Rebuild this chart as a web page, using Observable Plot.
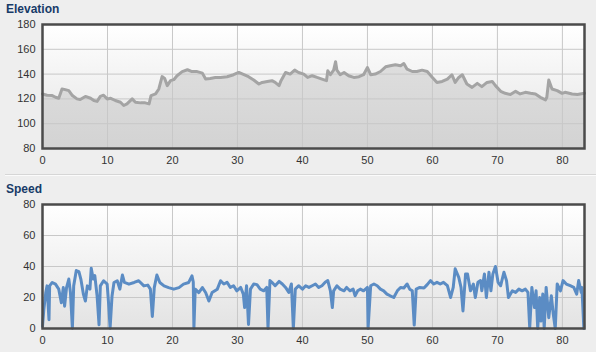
<!DOCTYPE html>
<html><head><meta charset="utf-8">
<script src="https://cdn.jsdelivr.net/npm/d3@7"></script>
<script src="https://cdn.jsdelivr.net/npm/@observablehq/plot@0.6"></script>
<style>
html,body{margin:0;padding:0;background:#eeeeee;}
#wrap{position:relative;width:596px;height:352px;overflow:hidden;font-family:Arial,"Liberation Sans",sans-serif;}
.title{position:absolute;left:6px;font-weight:bold;font-size:12px;line-height:12px;color:#173b68;white-space:nowrap;}
#sep{position:absolute;left:5px;right:0;top:174px;height:0;border-top:1px solid #d6d6d6;border-bottom:1px solid #fbfbfb;}
.chart{position:absolute;left:0;}
</style>
</head><body>
<div id="wrap">
  <div id="c1" class="chart" style="top:0px"></div>
  <div id="sep"></div>
  <div id="c2" class="chart" style="top:180px"></div>
  <div class="title" style="top:2.5px">Elevation</div>
  <div class="title" style="top:182.5px">Speed</div>
</div>
<script>
const xTicks = [0,10,20,30,40,50,60,70,80];
const elevTicks = [80,100,120,140,160,180];
const speedTicks = [0,20,40,60,80];

const elevX = [0,0.7,1.5,2.0,2.5,3.0,3.5,4.05,4.6,5.3,5.8,6.6,7.4,7.9,8.4,8.9,9.4,9.95,10.5,11.2,12.0,12.5,13.0,13.8,14.3,15.1,15.8,16.4,16.7,17.4,17.9,18.4,18.8,19.2,19.7,20.2,20.7,21.5,22.3,23.0,23.8,24.6,25.1,25.8,26.6,27.4,28.4,29.4,30.2,31.0,31.7,32.5,33.3,33.8,34.6,35.3,35.8,36.4,36.7,37.4,38.1,38.8,39.4,40.2,40.8,41.5,42.25,43.0,43.7,43.9,44.3,44.8,45.1,45.3,45.8,46.4,47.1,47.9,48.7,49.4,50.0,50.5,51.2,52.0,52.8,53.5,54.3,55.1,55.6,56.1,56.9,57.6,58.4,59.2,60.0,60.7,61.5,62.3,63.0,63.5,64.05,64.6,65.3,66.1,66.9,67.6,68.4,69.2,69.7,70.5,71.2,72.0,72.8,73.5,74.3,75.1,75.85,76.6,77.4,77.6,77.9,78.4,79.2,79.95,80.4,81.5,82.3,83.4];
const elevV = [124,123,122.7,121.3,120.5,128,127.5,126.7,122.7,120,119.5,122,120.5,118.7,118,122,123,120,120.5,118.7,117.3,114.7,116,120,117.3,116.8,116.8,116,122.7,124,128,138,136.5,130.7,134.7,135.5,138.7,142,143.5,142,142,140.8,136,136.5,137.3,137.3,137.9,139.5,141.3,139.5,137.9,135.2,132,133.3,134.1,134.7,133.3,130.7,134.7,141.3,140,143.2,141.3,140,137.3,138.7,137.3,136,134.7,142.7,139.5,143.2,150,143.2,139.5,141.3,138.7,137.3,137.9,139.5,145.3,139.5,140,142.1,145.9,146.7,147.5,146.7,148.5,144,142.1,142.1,143.2,142.1,137.3,133.3,134.1,136,139.5,133.3,137.3,139.5,132,129.3,132.5,129.9,133.3,134.1,130.7,126.1,124.5,123.5,126.1,124,125.3,124.5,124,121.3,119.2,121.3,135.2,128,126.7,124.5,125.3,124,123.5,124.5];

const speedX = [0,0.2,0.5,0.7,1.0,1.1,1.5,2.0,2.5,2.9,3.2,3.4,3.7,4.05,4.3,4.6,4.8,5.2,5.6,5.9,6.3,6.6,6.9,7.3,7.5,7.8,8.05,8.4,8.7,8.9,9.4,9.95,10.2,10.4,10.7,11.0,11.5,11.9,12.3,12.6,13.3,14.1,14.8,15.6,16.2,16.6,16.9,17.2,17.6,18.05,18.7,19.4,20.2,21.0,21.7,22.5,23.0,23.2,23.3,23.5,24.05,24.6,25.1,25.6,26.1,26.9,27.4,27.9,28.4,28.9,29.4,29.9,30.5,30.9,31.1,31.4,31.7,32.0,32.5,33.0,33.5,34.05,34.5,34.7,35.0,35.3,35.8,36.4,36.9,37.4,37.9,38.3,38.6,38.9,39.4,40.0,40.5,41.0,41.5,42.0,42.5,43.0,43.5,43.9,44.3,44.6,44.8,45.3,45.8,46.4,46.8,47.3,47.8,48.1,48.5,48.9,49.4,50.0,50.1,50.5,51.0,51.5,52.0,52.5,53.0,53.5,54.05,54.6,55.1,55.6,56.1,56.5,56.9,57.2,57.5,58.05,58.7,59.2,59.7,60.2,60.7,61.2,61.7,62.3,62.8,63.2,63.5,64.05,64.4,64.7,65.1,65.4,65.85,66.3,66.6,67.0,67.4,67.6,68.0,68.3,68.7,69.0,69.3,69.7,70.1,70.5,71.0,71.4,71.7,72.3,72.8,73.3,73.8,74.3,74.7,74.97,75.3,75.7,75.95,76.2,76.5,76.7,76.98,77.2,77.5,77.9,78.3,78.6,78.9,79.2,79.7,80.1,80.6,81.2,81.75,82.2,82.5,82.9,83.0,83.3];
const speedV = [1.3,12,23,27.5,5.7,27.5,29.7,28.6,25.4,16.6,26.4,14.4,26.4,31.9,23.2,0.2,27.5,37.4,36.7,31.9,22,17.7,27.5,25.4,38.9,31.9,34.1,21,2.4,27.5,30.8,28.6,14.4,0.2,21,29.7,30.8,25.4,34.5,29.7,28.6,29.7,30.8,27.5,28,25.4,7.8,26.4,34.5,29.7,27.5,26.4,25.4,26.4,28.6,29.7,34,30,0.2,25.4,23.2,26.4,23.2,17.7,23.2,25.4,30.8,28.7,29.8,26.5,27.6,24.3,26.5,22.2,13.5,27.6,2.6,25.4,28.7,28.3,25.4,24.3,26.5,0,30.9,29.8,27.6,30.4,28.7,26.5,23.3,28.7,0,25.4,27.6,25.4,27.6,26.5,27.6,28.7,26.5,27.6,29.8,30.9,24.3,13.5,24.3,27.6,25.4,24.3,26.5,24.3,25.4,21.1,24.3,25.4,24.3,26.5,0,27.6,28.7,27.6,25.4,24.3,22.2,21.1,20,24.3,26.5,26.1,28.7,25.4,24.3,2.2,25.4,26.5,26.1,28.3,30.9,28.7,29.8,28.7,29.8,27.6,20,26.5,38.5,33,26.5,11.3,35.2,35.2,24.3,28.7,20,29.8,30.9,24.3,35.2,20,36.3,24.3,35.2,40,29.8,27.6,36.3,30.9,20,24.3,23.3,25.4,24.3,25.4,23.3,0.4,26.5,13.5,24.3,0,20,4.8,22.2,0,26.5,7,21.1,9.1,0,28.7,24.3,30.9,28.7,27.6,26.5,22.2,30.9,23.3,26.5,0];

const elevData = elevX.map((x, i) => ({x, v: elevV[i]}));
const speedData = speedX.map((x, i) => ({x, v: speedV[i]}));

function addDefs(svg, id, areaTop, areaBottom) {
  const defs = d3.create("svg:defs");
  const bg = defs.append("linearGradient").attr("id", "bg-" + id).attr("x1", 0).attr("y1", 0).attr("x2", 0).attr("y2", 1);
  bg.append("stop").attr("offset", "0%").attr("stop-color", "#ffffff");
  bg.append("stop").attr("offset", "100%").attr("stop-color", "#e3e3e3");
  const ar = defs.append("linearGradient").attr("id", "area-" + id).attr("x1", 0).attr("y1", 0).attr("x2", 0).attr("y2", 1);
  ar.append("stop").attr("offset", "0%").attr("stop-color", areaTop);
  ar.append("stop").attr("offset", "100%").attr("stop-color", areaBottom);
  const f = defs.append("filter").attr("id", "blur-" + id).attr("x", "-5%").attr("y", "-20%").attr("width", "110%").attr("height", "140%");
  f.append("feGaussianBlur").attr("stdDeviation", 1.5);
  svg.insertBefore(defs.node(), svg.firstChild);
  d3.select(svg).selectAll('[aria-label="shadow"]').attr("filter", `url(#blur-${id})`);
}

function makeChart({data, yDomain, yTicks, id, lineColor, shadowColor, area}) {
  const marks = [Plot.frame({fill: `url(#bg-${id})`, stroke: "none"})];
  if (area) marks.push(Plot.areaY(data, {x: "x", y1: yDomain[0], y2: "v", fill: `url(#area-${id})`}));
  marks.push(Plot.ruleX(xTicks.filter(t => t > 0), {stroke: "#c8c8c8", strokeWidth: 1}));
  marks.push(Plot.ruleY(yTicks.filter(t => t > yDomain[0] && t < yDomain[1]), {stroke: "#c8c8c8", strokeWidth: 1}));
  marks.push(Plot.line(data, {x: "x", y: "v", stroke: shadowColor, strokeWidth: 5, dy: 3, strokeLinejoin: "round", ariaLabel: "shadow"}));
  marks.push(Plot.line(data, {x: "x", y: "v", stroke: lineColor, strokeWidth: 3, strokeLinejoin: "round"}));
  marks.push(Plot.frame({stroke: "#4b4b4b", strokeWidth: 2.5}));
  return Plot.plot({
    width: 596, height: 172,
    marginLeft: 42, marginRight: 12, marginTop: 24, marginBottom: 24,
    style: {background: "transparent", fontFamily: "Arial, 'Liberation Sans', sans-serif", fontSize: "11px", color: "#333", overflow: "visible"},
    x: {domain: [0, 83.4], ticks: xTicks, tickSize: 0, tickPadding: 8, label: null},
    y: {domain: yDomain, ticks: yTicks, tickSize: 0, tickPadding: 7, label: null},
    marks
  });
}

const s1 = makeChart({data: elevData, yDomain: [80, 180], yTicks: elevTicks, id: "e", lineColor: "#a4a4a4", shadowColor: "#b0b0b0", area: true});
document.getElementById("c1").appendChild(s1);
addDefs(s1, "e", "#dedede", "#d3d3d3");

const s2 = makeChart({data: speedData, yDomain: [0, 80], yTicks: speedTicks, id: "s", lineColor: "#5b8cc4", shadowColor: "#b4bfcd", area: false});
document.getElementById("c2").appendChild(s2);
addDefs(s2, "s", "#ddd", "#ddd");
</script>
</body></html>
